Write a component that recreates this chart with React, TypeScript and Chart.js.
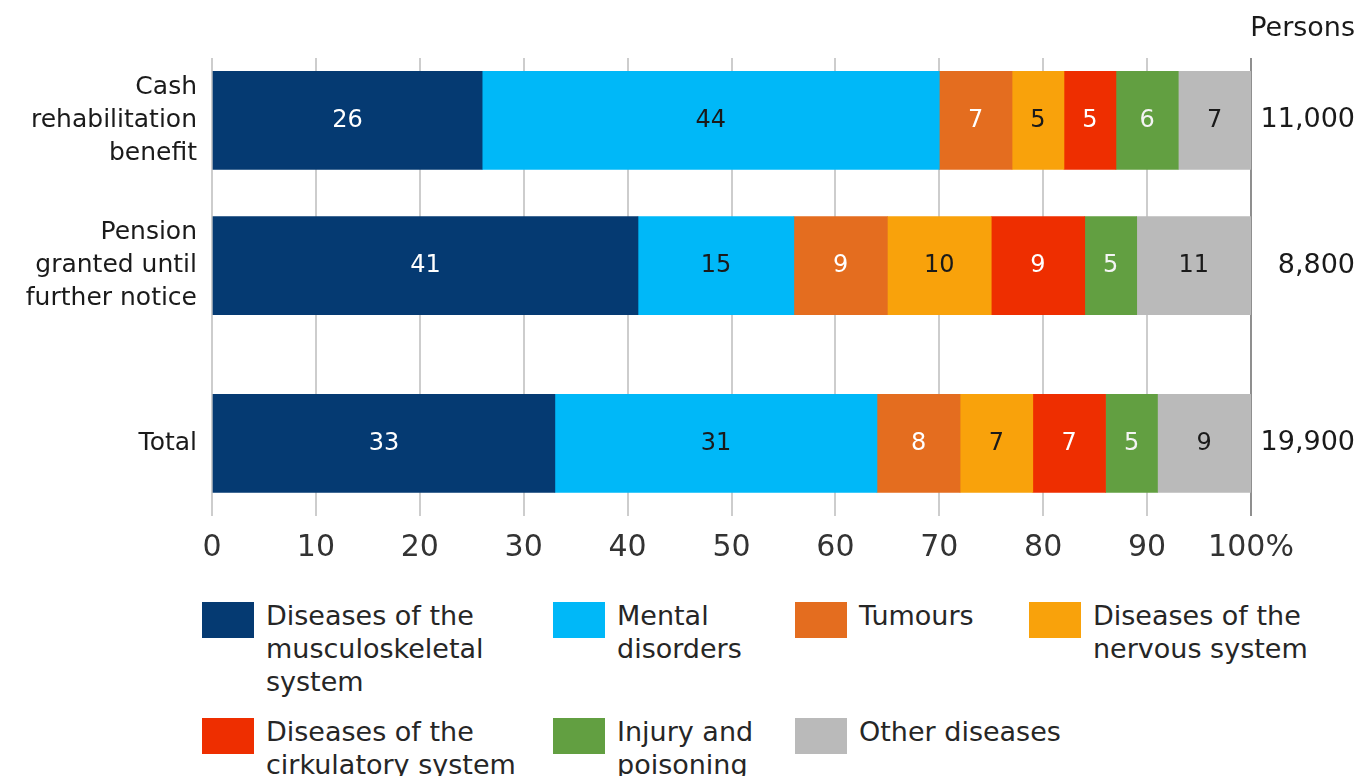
import React, { useEffect, useRef } from "react";
import { Chart, registerables } from "chart.js";

Chart.register(...registerables);

// ---- data ----
const categories: string[][] = [
  ["Cash", "rehabilitation", "benefit"],
  ["Pension", "granted until", "further notice"],
  ["Total"],
];
const rowSlots = [0, 1, 2.225];
const personsLabels = ["11,000", "8,800", "19,900"];
const personsTitle = "Persons";

const seriesNames: string[][] = [
  ["Diseases of the", "musculoskeletal", "system"],
  ["Mental", "disorders"],
  ["Tumours"],
  ["Diseases of the", "nervous system"],
  ["Diseases of the", "cirkulatory system"],
  ["Injury and", "poisoning"],
  ["Other diseases"],
];

const musculoskeletal = [26, 41, 33];
const mental = [44, 15, 31];
const tumours = [7, 9, 8];
const nervous = [5, 10, 7];
const circulatory = [5, 9, 7];
const injury = [6, 5, 5];
const other = [7, 11, 9];

const seriesData = [musculoskeletal, mental, tumours, nervous, circulatory, injury, other];

// ---- styles ----
const seriesColors = ["#053a72", "#00b8f8", "#e46d1f", "#f9a20b", "#ee2e00", "#629f41", "#bababa"];
const labelColors = ["#ffffff", "#1a1a1a", "#ffffff", "#1a1a1a", "#ffffff", "#f4f4f4", "#1a1a1a"];
const FONT = "'DejaVu Sans', Verdana, sans-serif";
const legendCols = [202, 553, 795, 1029];
const legendRows = [602, 718];

const W = 1362;
const CH = 580;

const barLabelsPlugin = {
  id: "barLabels",
  afterDatasetsDraw(chart: any) {
    const ctx = chart.ctx;
    ctx.save();
    ctx.font = `24px ${FONT}`;
    ctx.textAlign = "center";
    ctx.textBaseline = "middle";
    chart.data.datasets.forEach((_ds: any, di: number) => {
      const meta = chart.getDatasetMeta(di);
      meta.data.forEach((el: any, i: number) => {
        const { x, y, base } = el.getProps(["x", "y", "base"], true);
        ctx.fillStyle = labelColors[di];
        ctx.fillText(String(seriesData[di][i]), (x + base) / 2, y);
      });
    });
    ctx.restore();
  },
};

const personsPlugin = {
  id: "personsTitle",
  afterDraw(chart: any) {
    const ctx = chart.ctx;
    ctx.save();
    ctx.font = `27px ${FONT}`;
    ctx.fillStyle = "#1a1a1a";
    ctx.textAlign = "right";
    ctx.textBaseline = "middle";
    ctx.fillText(personsTitle, chart.width - 7, 29);
    ctx.restore();
  },
};

function slotScale(position: "left" | "right", labels: any[], width: number, fontSize: number, extra: any) {
  return {
    type: "linear",
    position,
    reverse: true,
    offset: false,
    min: -0.43,
    max: 2.722,
    stacked: true,
    afterBuildTicks: (s: any) => {
      s.ticks = rowSlots.map((v) => ({ value: v }));
    },
    afterFit: (s: any) => {
      s.width = width;
    },
    ticks: {
      autoSkip: false,
      callback: (_v: any, i: number) => labels[i],
      font: { family: FONT, size: fontSize, lineHeight: 33 / fontSize },
      color: "#1a1a1a",
      ...extra,
    },
    grid: { display: false, drawTicks: false, offset: false },
    border: { display: false },
  };
}

export default function App() {
  const ref = useRef<HTMLCanvasElement | null>(null);

  useEffect(() => {
    if (!ref.current) return;
    const chart = new Chart(ref.current, {
      type: "bar",
      data: {
        datasets: seriesData.map((vals, di) => ({
          label: seriesNames[di].join(" "),
          data: vals.map((v, i) => ({ x: v, y: rowSlots[i] })),
          backgroundColor: seriesColors[di],
          borderWidth: 0,
          barThickness: 98,
          yAxisID: "y",
        })),
      },
      options: {
        indexAxis: "y",
        animation: false,
        responsive: false,
        events: [],
        layout: { padding: { top: 58, right: 7, left: 0, bottom: 0 } },
        plugins: {
          legend: { display: false },
          tooltip: { enabled: false },
          title: { display: false },
        },
        scales: {
          x: {
            type: "linear",
            min: 0,
            max: 100,
            stacked: true,
            afterFit: (s: any) => {
              s.height = CH - 518;
            },
            ticks: {
              stepSize: 10,
              padding: 15,
              color: "#333333",
              font: { family: FONT, size: 30 },
              callback: (v: any) => (v === 100 ? "100%" : String(v)),
            },
            grid: {
              drawTicks: false,
              lineWidth: 2,
              color: (c: any) => (c.tick && c.tick.value === 100 ? "#8f8f8f" : "#cdcdcd"),
            },
            border: { display: false },
          },
          y: slotScale("left", categories, 212, 25, { padding: 15 }),
          yR: slotScale("right", personsLabels, 104, 27, { padding: 10, crossAlign: "far" }),
        } as any,
      },
      plugins: [barLabelsPlugin, personsPlugin],
    } as any);
    return () => chart.destroy();
  }, []);

  return (
    <div
      style={{
        position: "absolute",
        left: 0,
        top: 0,
        width: W,
        height: 776,
        overflow: "hidden",
        background: "#ffffff",
        fontFamily: FONT,
      }}
    >
      <canvas ref={ref} width={W} height={CH} style={{ position: "absolute", left: 0, top: 0, width: W, height: CH }} />
      {seriesNames.map((lines, i) => {
        const col = i < 4 ? i : i - 4;
        const row = i < 4 ? 0 : 1;
        const left = legendCols[col];
        const top = legendRows[row];
        return (
          <React.Fragment key={i}>
            <div
              style={{
                position: "absolute",
                left,
                top,
                width: 52,
                height: 36,
                background: seriesColors[i],
              }}
            />
            <div
              style={{
                position: "absolute",
                left: left + 64,
                top: top - 3.5,
                fontSize: 27,
                lineHeight: "33px",
                color: "#262626",
                whiteSpace: "nowrap",
              }}
            >
              {lines.map((l, k) => (
                <div key={k}>{l}</div>
              ))}
            </div>
          </React.Fragment>
        );
      })}
    </div>
  );
}
